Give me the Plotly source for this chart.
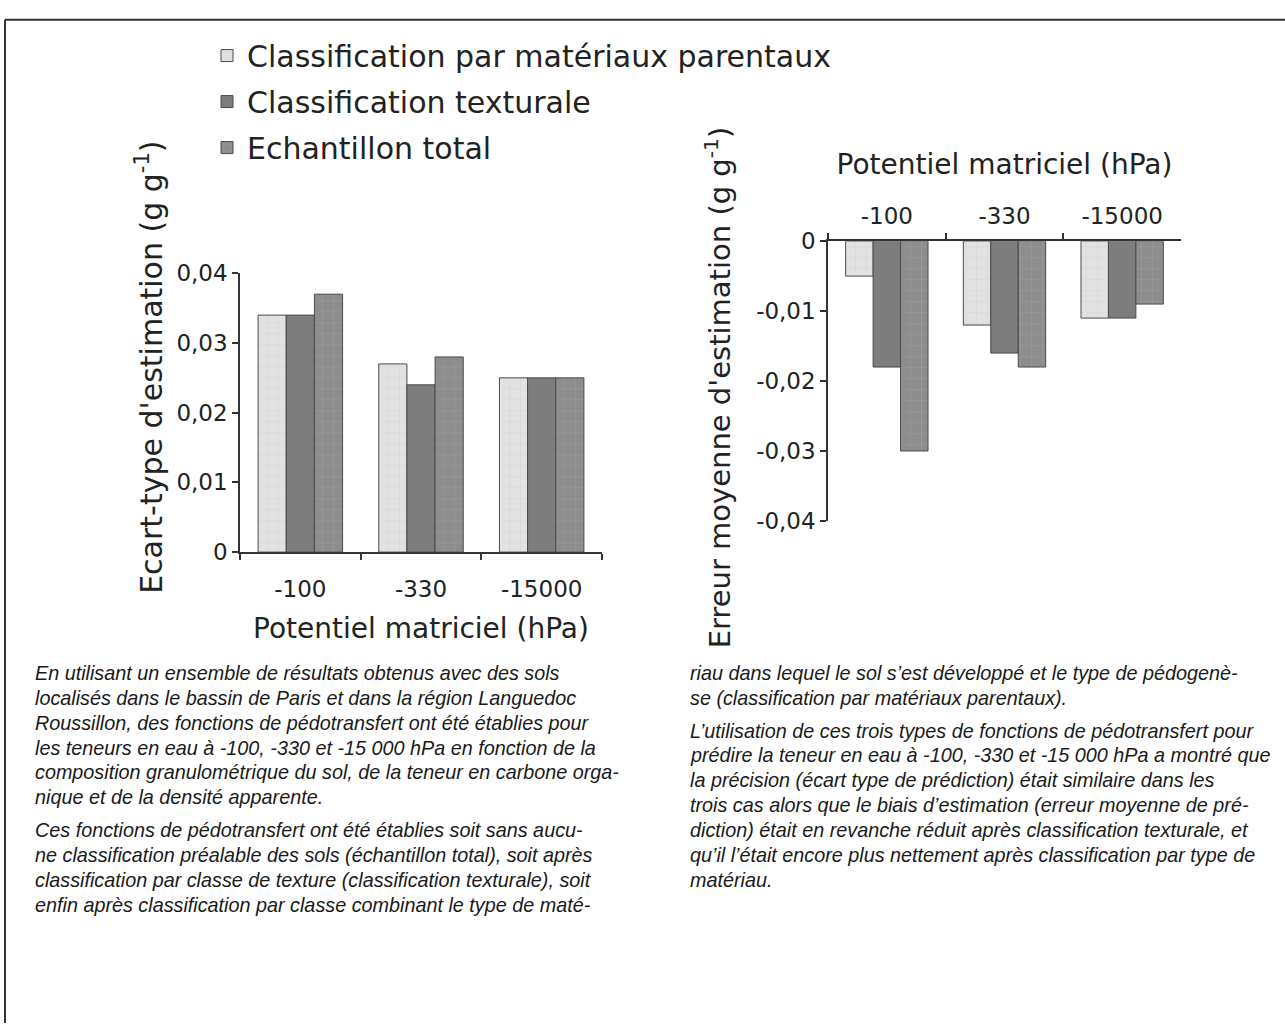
import plotly.graph_objects as go

# ---------------- data ----------------
categories = ["-100", "-330", "-15000"]
series_names = [
    "Classification par matériaux parentaux",
    "Classification texturale",
    "Echantillon total",
]
ecart_parentaux = [0.034, 0.027, 0.025]
ecart_texturale = [0.034, 0.024, 0.025]
ecart_total = [0.037, 0.028, 0.025]

erreur_parentaux = [-0.005, -0.012, -0.011]
erreur_texturale = [-0.018, -0.016, -0.011]
erreur_total = [-0.030, -0.018, -0.009]

ecart_tickvals = [0, 0.01, 0.02, 0.03, 0.04]
ecart_ticktext = ["0", "0,01", "0,02", "0,03", "0,04"]
erreur_tickvals = [0, -0.01, -0.02, -0.03, -0.04]
erreur_ticktext = ["0", "-0,01", "-0,02", "-0,03", "-0,04"]

x_title = "Potentiel matriciel (hPa)"
y_title_left = "Ecart-type d'estimation (g g<sup>-1</sup>)"
y_title_right = "Erreur moyenne d'estimation (g g<sup>-1</sup>)"

left_par1 = [
    "En utilisant un ensemble de résultats obtenus avec des sols",
    "localisés dans le bassin de Paris et dans la région Languedoc",
    "Roussillon, des fonctions de pédotransfert ont été établies pour",
    "les teneurs en eau à -100, -330 et -15 000 hPa en fonction de la",
    "composition granulométrique du sol, de la teneur en carbone orga-",
    "nique et de la densité apparente.",
]
left_par2 = [
    "Ces fonctions de pédotransfert ont été établies soit sans aucu-",
    "ne classification préalable des sols (échantillon total), soit après",
    "classification par classe de texture (classification texturale), soit",
    "enfin après classification par classe combinant le type de maté-",
]
right_par1 = [
    "riau dans lequel le sol s’est développé et le type de pédogenè-",
    "se (classification par matériaux parentaux).",
]
right_par2 = [
    "L’utilisation de ces trois types de fonctions de pédotransfert pour",
    "prédire la teneur en eau à -100, -330 et -15 000 hPa a montré que",
    "la précision (écart type de prédiction) était similaire dans les",
    "trois cas alors que le biais d’estimation (erreur moyenne de pré-",
    "diction) était en revanche réduit après classification texturale, et",
    "qu’il l’était encore plus nettement après classification par type de",
    "matériau.",
]

# ---------------- styles ----------------
W, H = 1285, 1036
def px(x):
    return x / W
def py(y):
    return 1 - y / H

styles = [
    dict(color="#e2e2e2", pattern=dict(shape="+", fgcolor="#cdcdcd", size=11, solidity=0.12)),
    dict(color="#7d7d7d", pattern=None),
    dict(color="#8d8d8d", pattern=dict(shape="+", fgcolor="#a6a6a6", size=11, solidity=0.12)),
]

FONT = "DejaVu Sans"
TXT = "#222222"
AX = "#333333"

fig = go.Figure()

left_series = [ecart_parentaux, ecart_texturale, ecart_total]
right_series = [erreur_parentaux, erreur_texturale, erreur_total]

def make_marker(st):
    marker = dict(color=st["color"], line=dict(color="#4a4a4a", width=1))
    if st["pattern"]:
        marker["pattern"] = dict(st["pattern"], bgcolor=st["color"])
    return marker

for i, (name, vals) in enumerate(zip(series_names, left_series)):
    fig.add_trace(go.Bar(x=categories, y=vals, name=name, marker=make_marker(styles[i]),
                         legendgroup=f"g{i}", showlegend=True,
                         xaxis="x", yaxis="y"))

for i, (name, vals) in enumerate(zip(series_names, right_series)):
    fig.add_trace(go.Bar(x=categories, y=vals, name=name, marker=make_marker(styles[i]),
                         legendgroup=f"g{i}", showlegend=False,
                         xaxis="x2", yaxis="y2"))

axis_common = dict(
    showline=True, linecolor=AX, linewidth=1.5, showgrid=False, zeroline=False,
    ticks="outside", ticklen=6, tickcolor=AX, tickwidth=1.5,
    tickfont=dict(family=FONT, size=23, color=TXT),
)
title_font = dict(family=FONT, size=28, color=TXT)

fig.update_layout(
    width=W, height=H,
    margin=dict(l=0, r=0, t=0, b=0),
    paper_bgcolor="white", plot_bgcolor="white",
    barmode="group", bargap=0.3, bargroupgap=0,
    separators=", ",
    showlegend=True,
    legend=dict(
        x=px(207), y=py(17), xanchor="left", yanchor="top",
        font=dict(family=FONT, size=30, color=TXT),
        traceorder="grouped", tracegroupgap=4,
        bgcolor="rgba(0,0,0,0)",
    ),
    xaxis=dict(
        axis_common, domain=[px(240), px(602)], anchor="y",
        tickson="boundaries", type="category", ticklabelstandoff=16,
        title=dict(text=x_title, font=title_font, standoff=17),
    ),
    yaxis=dict(
        axis_common, domain=[py(553), py(267)], anchor="x",
        range=[0, 0.04], tickvals=ecart_tickvals, ticktext=ecart_ticktext,
    ),
    xaxis2=dict(
        axis_common, domain=[px(828), px(1181)], anchor="y2", side="top",
        tickson="boundaries", type="category", ticklabelstandoff=6,
        title=dict(text=x_title, font=title_font, standoff=20),
    ),
    yaxis2=dict(
        axis_common, domain=[py(521), py(234)], anchor="x2",
        range=[-0.04, 0], tickvals=erreur_tickvals, ticktext=erreur_ticktext,
    ),
)

# y-axis titles (placed like the reference, not centred on the axes)
fig.add_annotation(text=y_title_left, xref="paper", yref="paper", x=px(150), y=py(364),
                   xanchor="center", yanchor="middle", textangle=-90, showarrow=False,
                   font=dict(family=FONT, size=30, color=TXT))
fig.add_annotation(text=y_title_right, xref="paper", yref="paper", x=px(718), y=py(384),
                   xanchor="center", yanchor="middle", textangle=-90, showarrow=False,
                   font=dict(family=FONT, size=29, color=TXT))

# frame (top and left edges)
fig.add_shape(type="line", xref="paper", yref="paper", x0=px(5), x1=1, y0=py(7), y1=py(7),
              line=dict(color="#333333", width=2))
fig.add_shape(type="line", xref="paper", yref="paper", x0=px(5), x1=px(5), y0=py(7), y1=0,
              line=dict(color="#333333", width=2))

# text paragraphs
TFONT = dict(family="Liberation Sans Narrow, Arial Narrow, Liberation Sans", size=19.8,
             color="#1a1a1a", style="italic")
LINE = 25.5
PGAP = 8

def add_block(x_left, y_start, paragraphs):
    y = y_start
    for p_i, par in enumerate(paragraphs):
        if p_i > 0:
            y += PGAP
        for line in par:
            fig.add_annotation(text=line, xref="paper", yref="paper",
                               x=px(x_left), y=py(y), xanchor="left", yanchor="middle",
                               showarrow=False, font=TFONT, align="left")
            y += LINE

add_block(33, 677, [left_par1, left_par2])
add_block(688, 677, [right_par1, right_par2])

fig.write_html("out.html", config={"displayModeBar": False},
               post_script="document.body.style.margin='0';document.body.style.overflow='hidden';")
